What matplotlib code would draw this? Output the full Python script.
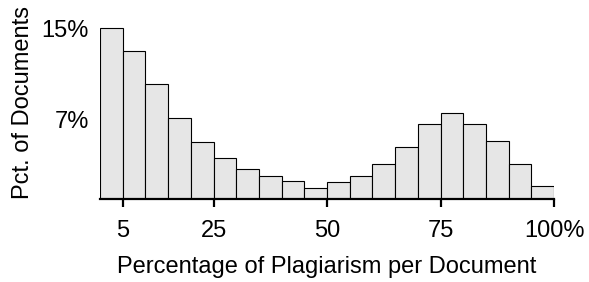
import numpy as np
import matplotlib
matplotlib.use("Agg")
import matplotlib.pyplot as plt

plt.rcParams['font.family'] = ['Liberation Sans', 'DejaVu Sans']

# histogram bins (percentage of plagiarism, 5-point bins) and share of documents
bin_starts = [0, 5, 10, 15, 20, 25, 30, 35, 40, 45,
              50, 55, 60, 65, 70, 75, 80, 85, 90, 95]
pct_docs = [15.0, 13.0, 10.1, 7.1, 5.0, 3.6, 2.6, 2.0, 1.6, 1.0,
            1.5, 2.0, 3.1, 4.6, 6.6, 7.6, 6.6, 5.1, 3.1, 1.1]
bin_width = 5

x_ticks = [5, 25, 50, 75, 100]
x_ticklabels = ['5', '25', '50', '75', '100%']
y_ticks = [7, 15]
y_ticklabels = ['7%', '15%']

fs = 17

fig = plt.figure(figsize=(5.89, 2.82), dpi=100)
ax = fig.add_axes([100 / 589, 83 / 282, 454 / 589, 173 / 282])

ax.bar(bin_starts, pct_docs, width=bin_width, align='edge',
       color='#e6e6e6', edgecolor='black', linewidth=0.8, zorder=2)

ax.set_xlim(0, 100)
ax.set_ylim(0, 15.2)

for side in ['top', 'right', 'left']:
    ax.spines[side].set_visible(False)
ax.spines['bottom'].set_linewidth(1.6)
ax.spines['bottom'].set_zorder(3)

ax.set_xticks(x_ticks)
ax.set_xticklabels(x_ticklabels)
ax.set_yticks(y_ticks)
ax.set_yticklabels(y_ticklabels)
ax.tick_params(axis='x', length=6, width=1.6, pad=9, labelsize=fs)
ax.tick_params(axis='y', length=0, pad=8, labelsize=fs)

ax.set_xlabel('Percentage of Plagiarism per Document', fontsize=fs, labelpad=10)
ax.set_ylabel('Pct. of Documents', fontsize=fs)
ax.yaxis.set_label_coords(-0.145, 0.56)

fig.savefig('out.png', dpi=100)
